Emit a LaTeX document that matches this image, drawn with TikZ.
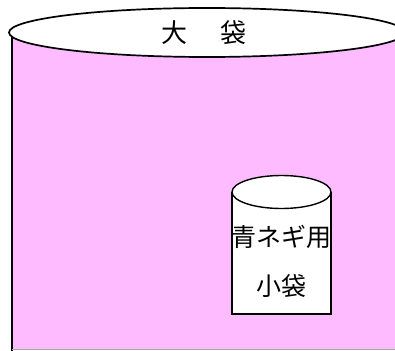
\documentclass[tikz,border=0pt]{standalone}
\usepackage{fontspec}
\newfontfamily\cjk{Noto Sans CJK JP}
\definecolor{bagpink}{HTML}{FFBBFF}
\tikzset{
  outline/.style={draw=black, line width=1.7pt},
  thinout/.style={draw=black, line width=1.4pt},
  label/.style={font=\cjk\fontsize{25}{25}\selectfont, inner sep=0pt},
  biglabel/.style={font=\cjk\fontsize{26}{26}\selectfont, inner sep=0pt}
}
\begin{document}
\begin{tikzpicture}[x=1pt,y=-1pt]
\useasboundingbox (0,0) rectangle (395,350);
\clip (0,0) rectangle (395,350);
% big bag body
\fill[bagpink] (12,33) rectangle (402,350);
\draw[outline] (12,33) -- (12,352);
\draw[gray!70, line width=1pt] (12,349.5) -- (402,349.5);
\draw[outline, fill=white] (207,32.5) ellipse [x radius=198pt, y radius=24.5pt];
\node[biglabel] (big) at (204,33) {大\hspace{1.3em}袋};
% small bag
\fill[white] (232,192) rectangle (331,314);
\draw[thinout] (232,192) -- (232,314) -- (331,314) -- (331,192);
\draw[thinout, fill=white] (281.5,192) ellipse [x radius=49.5pt, y radius=16.5pt];
\node[label] (s1) at (281.5,237) {青ネギ用};
\node[label] (s2) at (281.5,286) {小袋};
\end{tikzpicture}
\end{document}
